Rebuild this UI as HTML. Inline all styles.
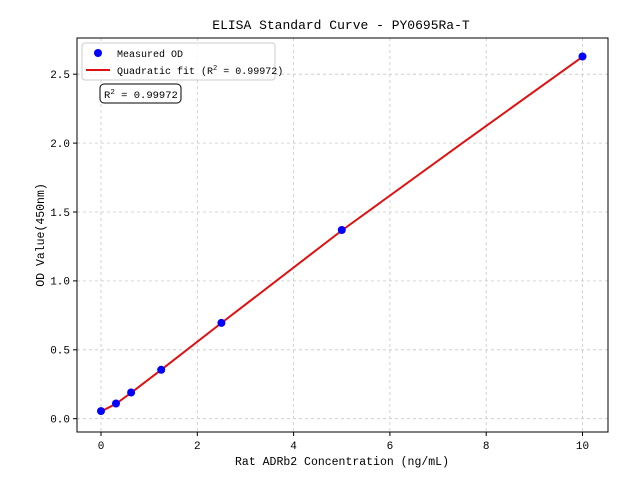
<!DOCTYPE html>
<html><head><meta charset="utf-8"><style>
html,body{margin:0;padding:0;background:#fff;}
svg text{font-family:"Liberation Mono",monospace;fill:#000;}
</style></head><body>
<svg width="640" height="480" xmlns="http://www.w3.org/2000/svg">
<rect width="640" height="480" fill="#fff"/>
<g stroke="#c8c8c8" stroke-width="0.8" stroke-dasharray="3,3">
<line x1="101" y1="38" x2="101" y2="432"/>
<line x1="197.3" y1="38" x2="197.3" y2="432"/>
<line x1="293.6" y1="38" x2="293.6" y2="432"/>
<line x1="389.9" y1="38" x2="389.9" y2="432"/>
<line x1="486.2" y1="38" x2="486.2" y2="432"/>
<line x1="582.5" y1="38" x2="582.5" y2="432"/>
<line x1="77" y1="418.7" x2="608" y2="418.7"/>
<line x1="77" y1="349.8" x2="608" y2="349.8"/>
<line x1="77" y1="280.9" x2="608" y2="280.9"/>
<line x1="77" y1="212" x2="608" y2="212"/>
<line x1="77" y1="143.1" x2="608" y2="143.1"/>
<line x1="77" y1="74.2" x2="608" y2="74.2"/>
</g>
<rect x="77" y="38" width="531" height="394" fill="none" stroke="#000" stroke-width="1"/>
<g stroke="#000" stroke-width="1">
<line x1="101" y1="432" x2="101" y2="436"/>
<line x1="197.3" y1="432" x2="197.3" y2="436"/>
<line x1="293.6" y1="432" x2="293.6" y2="436"/>
<line x1="389.9" y1="432" x2="389.9" y2="436"/>
<line x1="486.2" y1="432" x2="486.2" y2="436"/>
<line x1="582.5" y1="432" x2="582.5" y2="436"/>
<line x1="73" y1="418.7" x2="77" y2="418.7"/>
<line x1="73" y1="349.8" x2="77" y2="349.8"/>
<line x1="73" y1="280.9" x2="77" y2="280.9"/>
<line x1="73" y1="212" x2="77" y2="212"/>
<line x1="73" y1="143.1" x2="77" y2="143.1"/>
<line x1="73" y1="74.2" x2="77" y2="74.2"/>
</g>
<g font-size="11" text-anchor="middle">
<text x="101" y="449">0</text>
<text x="197.3" y="449">2</text>
<text x="293.6" y="449">4</text>
<text x="389.9" y="449">6</text>
<text x="486.2" y="449">8</text>
<text x="582.5" y="449">10</text>
</g>
<g font-size="11" text-anchor="end">
<text x="70" y="422.5">0.0</text>
<text x="70" y="353.6">0.5</text>
<text x="70" y="284.7">1.0</text>
<text x="70" y="215.8">1.5</text>
<text x="70" y="146.9">2.0</text>
<text x="70" y="78">2.5</text>
</g>
<text x="342" y="465" font-size="11.5" text-anchor="middle">Rat ADRb2 Concentration (ng/mL)</text>
<text transform="translate(44,235) rotate(-90)" font-size="11.5" text-anchor="middle">OD Value(450nm)</text>
<text x="341" y="29" font-size="13" text-anchor="middle">ELISA Standard Curve - PY0695Ra-T</text>
<polyline fill="none" stroke="#e01010" stroke-width="2" points="101,411.5 116,403.8 131.1,392.8 161.2,369.8 221.4,323 341.8,230.5 462,143.3 582.5,56.8"/>
<g fill="#0000ff">
<circle cx="101" cy="411.1" r="4"/>
<circle cx="116" cy="403.5" r="4"/>
<circle cx="131.1" cy="392.5" r="4"/>
<circle cx="161.2" cy="369.8" r="4"/>
<circle cx="221.4" cy="322.9" r="4"/>
<circle cx="341.8" cy="230" r="4"/>
<circle cx="582.5" cy="56.5" r="4"/>
</g>
<rect x="82" y="43" width="193" height="37" rx="3" fill="#fff" fill-opacity="0.8" stroke="#ccc"/>
<circle cx="98" cy="53" r="4" fill="#0000ff"/>
<text x="117" y="57" font-size="10">Measured OD</text>
<line x1="86" y1="70" x2="110" y2="70" stroke="#e01010" stroke-width="2"/>
<text x="117" y="74" font-size="10">Quadratic fit (R<tspan dy="-4" font-size="7">2</tspan><tspan dy="4"> = 0.99972)</tspan></text>
<rect x="100" y="84" width="81" height="19" rx="4" fill="#fff" stroke="#000" stroke-width="1"/>
<text x="104" y="98" font-size="10.5">R<tspan dy="-4" font-size="7.5">2</tspan><tspan dy="4"> = 0.99972</tspan></text>
</svg>
</body></html>
